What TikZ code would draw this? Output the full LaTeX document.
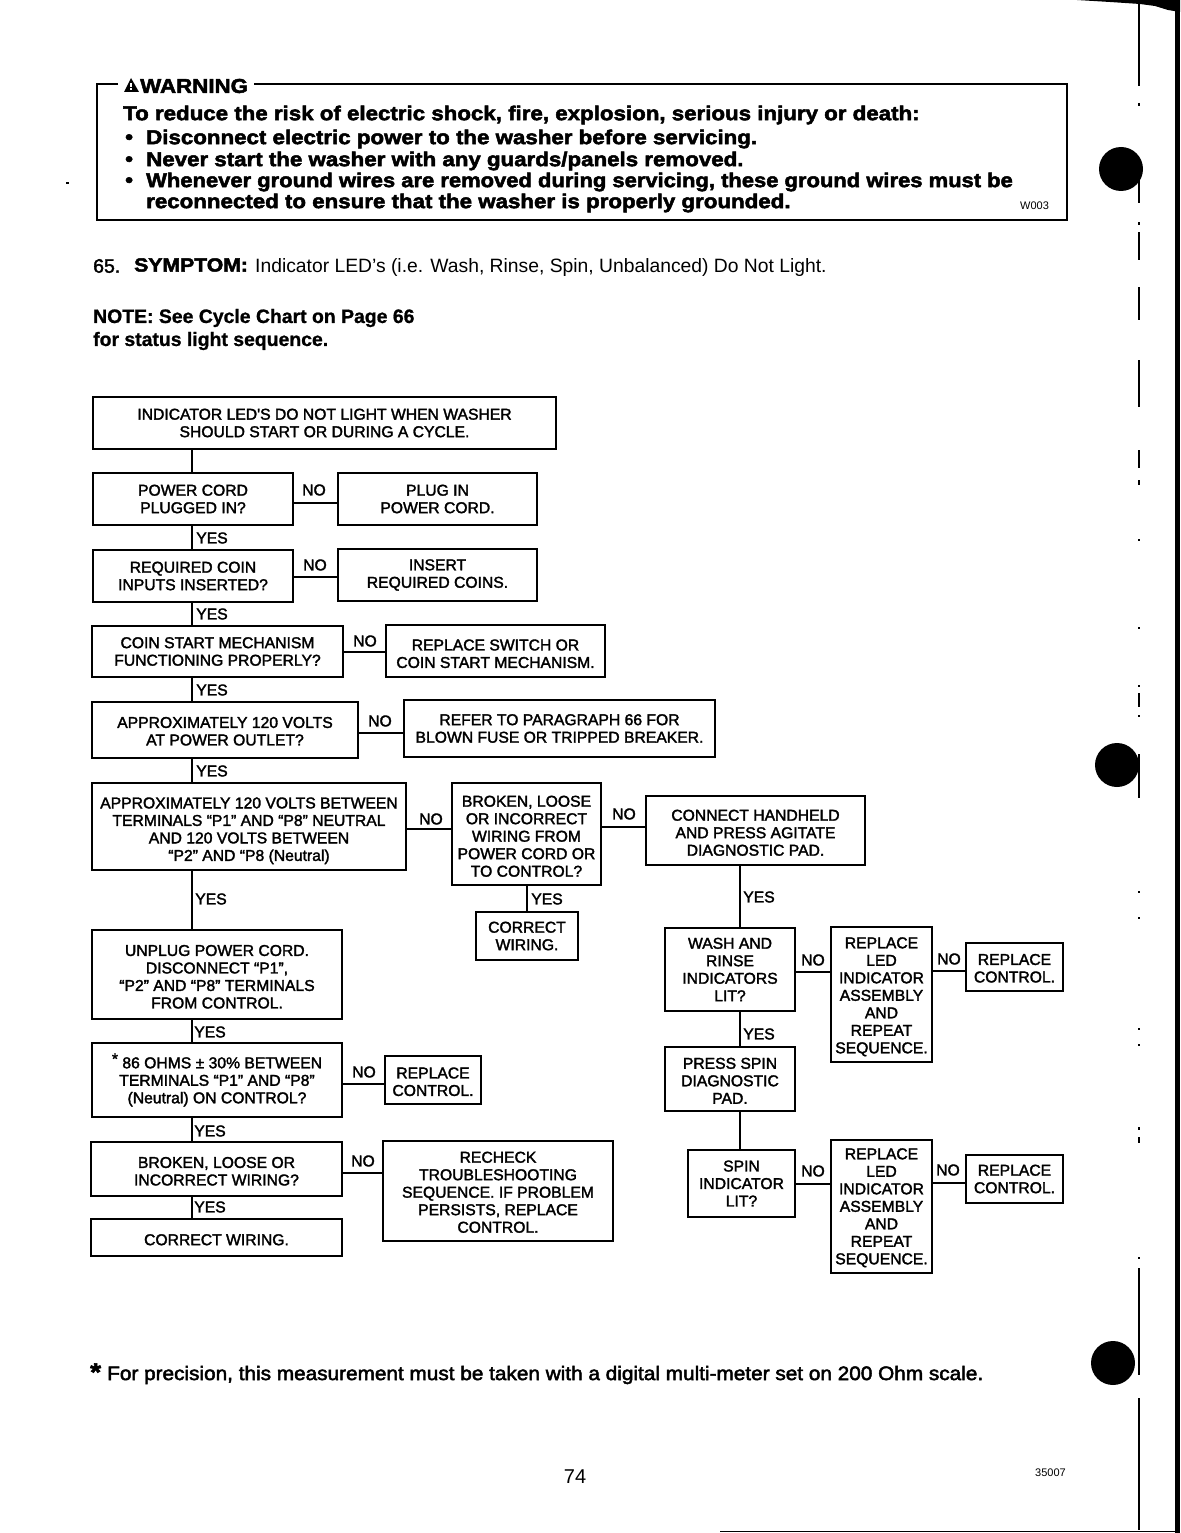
\documentclass[tikz,border=0pt]{standalone}
\usepackage{fontspec}
\setmainfont{Liberation Sans}
\newfontfamily\flowfont[FakeBold=2]{Liberation Sans}
\newfontfamily\warnfont[FakeBold=2.5,FakeStretch=1.115]{Liberation Sans Bold}
\newfontfamily\headfont[FakeBold=1]{Liberation Sans Bold}
\newfontfamily\footfont[FakeBold=2.5,FakeStretch=1.065]{Liberation Sans}
\newcommand{\warnsize}{\warnfont\fontsize{20}{22}\selectfont}
\newcommand{\dn}[1]{\rule{0pt}{\dimexpr 11.5pt+2\dimexpr #1\relax\relax}}
\tikzset{
  pagetext/.style={inner sep=0pt,anchor=west,text=black},
  warntext/.style={pagetext,font=\warnsize},
  flowtext/.style={font=\flowfont\fontsize{15.7}{17.5}\selectfont},
  rawbox/.style={draw=black,line width=2pt,align=center,inner sep=0pt,flowtext},
  tag/.style={inner sep=0pt,flowtext},
  link/.style={draw=black,line width=2pt},
  scan/.style={draw=black,line width=1.2pt},
}
% left, top, right, bottom, name, text
\newcommand{\flowbox}[6]{%
  \pgfmathsetmacro{\bw}{#3-#1}\pgfmathsetmacro{\bh}{#4-#2}%
  \pgfmathsetmacro{\bx}{(#1+#3)/2}\pgfmathsetmacro{\by}{(#2+#4)/2}%
  \node[rawbox,minimum width=\bw pt,minimum height=\bh pt] (#5) at (\bx,\by) {#6};}
\begin{document}
\begin{tikzpicture}[x=1pt,y=-1pt]
\useasboundingbox (0,0) rectangle (1180,1533);
\fill[white] (0,0) rectangle (1180,1533);

% warning frame
\coordinate (wtl) at (97,84);
\coordinate (wbr) at (1067,220);
\draw[line width=2pt] (118,84) -- (wtl) -- (97,220) -- (wbr) -- (1067,84) -- (254,84);
\fill[black] (131,78) -- (139,92) -- (124,92) -- cycle;
\fill[white] (130.3,83) rectangle (131.7,87.5);
\fill[white] (130.3,88.5) rectangle (131.7,90);
\node[warntext] (wtitle) at (140,86) {WARNING};
\node[warntext] (w1) at (123,115) {To reduce the risk of electric shock, fire, explosion, serious injury or death:};
\node[warntext] (b2) at (125,139) {•};
\node[warntext] (w2) at (146,139) {Disconnect electric power to the washer before servicing.};
\node[warntext] (b3) at (125,161) {•};
\node[warntext] (w3) at (146,161) {Never start the washer with any guards/panels removed.};
\node[warntext] (b4) at (125,182) {•};
\node[warntext,xscale=0.985,transform shape] (w4) at (146,182) {Whenever ground wires are removed during servicing, these ground wires must be};
\node[warntext] (w5) at (146,203) {reconnected to ensure that the washer is properly grounded.};
\node[pagetext,font=\fontsize{11}{12}\selectfont] (w003) at (1020,206) {W003};

\node[pagetext,font=\flowfont\fontsize{19.5}{22}\selectfont] (symn) at (93,266) {65.};
\node[pagetext,font=\warnfont\fontsize{19}{22}\selectfont] (symh) at (134,265) {SYMPTOM:};
\node[pagetext,font=\fontsize{19.3}{22}\selectfont] (sym) at (255,267.5) {Indicator LED's (i.e. Wash, Rinse, Spin, Unbalanced) Do Not Light.};
\node[pagetext,font=\headfont\fontsize{19.4}{22}\selectfont] (note1) at (93,318) {NOTE: See Cycle Chart on Page 66};
\node[pagetext,font=\headfont\fontsize{19.4}{22}\selectfont] (note2) at (93,341) {for status light sequence.};

% boxes
\flowbox{93}{397}{556}{449}{start}{INDICATOR LED'S DO NOT LIGHT WHEN WASHER\\SHOULD START OR DURING A CYCLE.}
\flowbox{93}{473}{293}{525}{cord}{POWER CORD\\PLUGGED IN?}
\flowbox{338}{473}{537}{525}{plug}{PLUG IN\\POWER CORD.}
\flowbox{93}{550}{293}{602}{coin}{REQUIRED COIN\\INPUTS INSERTED?}
\flowbox{338}{549}{537}{601}{insert}{INSERT\\REQUIRED COINS.}
\flowbox{92}{626}{343}{677}{mech}{COIN START MECHANISM\\FUNCTIONING PROPERLY?}
\flowbox{386}{625}{605}{677}{swap}{\dn{2.5pt}REPLACE SWITCH OR\\COIN START MECHANISM.}
\flowbox{92}{702}{358}{758}{outlet}{\dn{1pt}APPROXIMATELY 120 VOLTS\\AT POWER OUTLET?}
\flowbox{404}{700}{715}{757}{fuse}{REFER TO PARAGRAPH 66 FOR\\BLOWN FUSE OR TRIPPED BREAKER.}
\flowbox{92}{783}{406}{870}{volts}{\dn{4pt}APPROXIMATELY 120 VOLTS BETWEEN\\TERMINALS “P1” AND “P8” NEUTRAL\\AND 120 VOLTS BETWEEN\\“P2” AND “P8 (Neutral)}
\flowbox{452}{783}{601}{885}{broken}{\dn{2pt}BROKEN, LOOSE\\OR INCORRECT\\WIRING FROM\\POWER CORD OR\\TO CONTROL?}
\flowbox{646}{796}{865}{865}{hand}{\dn{2pt}CONNECT HANDHELD\\AND PRESS AGITATE\\DIAGNOSTIC PAD.}
\flowbox{476}{912}{578}{960}{fix}{CORRECT\\WIRING.}
\flowbox{92}{930}{342}{1019}{unplug}{\dn{2pt}UNPLUG POWER CORD.\\DISCONNECT “P1”,\\“P2” AND “P8” TERMINALS\\FROM CONTROL.}
\flowbox{92}{1043}{342}{1117}{ohms}{\raisebox{4pt}{*} 86 OHMS ± 30\% BETWEEN\\TERMINALS “P1” AND “P8”\\(Neutral) ON CONTROL?}
\flowbox{385}{1056}{481}{1104}{ctrla}{\dn{1.5pt}REPLACE\\CONTROL.}
\flowbox{91}{1142}{342}{1196}{loose}{\dn{2pt}BROKEN, LOOSE OR\\INCORRECT WIRING?}
\flowbox{383}{1141}{613}{1241}{recheck}{\dn{1pt}RECHECK\\TROUBLESHOOTING\\SEQUENCE. IF PROBLEM\\PERSISTS, REPLACE\\CONTROL.}
\flowbox{91}{1219}{342}{1256}{fixb}{\dn{2pt}CORRECT WIRING.}
\flowbox{665}{928}{795}{1011}{wash}{WASH AND\\RINSE\\INDICATORS\\LIT?}
\flowbox{831}{927}{932}{1062}{leda}{\dn{2pt}REPLACE\\LED\\INDICATOR\\ASSEMBLY\\AND\\REPEAT\\SEQUENCE.}
\flowbox{966}{943}{1063}{991}{ctrlb}{\dn{1pt}REPLACE\\CONTROL.}
\flowbox{665}{1047}{795}{1111}{press}{\dn{1.5pt}PRESS SPIN\\DIAGNOSTIC\\PAD.}
\flowbox{688}{1150}{795}{1217}{spin}{SPIN\\INDICATOR\\LIT?}
\flowbox{831}{1140}{932}{1273}{ledb}{\dn{1pt}REPLACE\\LED\\INDICATOR\\ASSEMBLY\\AND\\REPEAT\\SEQUENCE.}
\flowbox{966}{1155}{1063}{1203}{ctrlc}{REPLACE\\CONTROL.}

% vertical connectors
\coordinate (sp) at (191.5,0);
\draw[link] (start.south -| sp) -- (cord.north -| sp);
\draw[link] (cord.south -| sp) -- (coin.north -| sp);
\draw[link] (coin.south -| sp) -- (mech.north -| sp);
\draw[link] (mech.south -| sp) -- (outlet.north -| sp);
\draw[link] (outlet.south -| sp) -- (volts.north -| sp);
\draw[link] (volts.south -| sp) -- (unplug.north -| sp);
\draw[link] (unplug.south -| sp) -- (ohms.north -| sp);
\draw[link] (ohms.south -| sp) -- (loose.north -| sp);
\draw[link] (loose.south -| sp) -- (fixb.north -| sp);
\coordinate (sb) at (527,0);
\draw[link] (broken.south -| sb) -- (fix.north -| sb);
\coordinate (sc) at (739.5,0);
\draw[link] (hand.south -| sc) -- (wash.north -| sc);
\draw[link] (wash.south -| sc) -- (press.north -| sc);
\draw[link] (press.south -| sc) -- (spin.north -| sc);

% horizontal connectors
\draw[link] (cord.east |- 0,503) -- (plug.west |- 0,503);
\draw[link] (coin.east |- 0,577) -- (insert.west |- 0,577);
\draw[link] (mech.east |- 0,652) -- (swap.west |- 0,652);
\draw[link] (outlet.east |- 0,733) -- (fuse.west |- 0,733);
\draw[link] (volts.east |- 0,829) -- (broken.west |- 0,829);
\draw[link] (broken.east |- 0,827) -- (hand.west |- 0,827);
\draw[link] (ohms.east |- 0,1084) -- (ctrla.west |- 0,1084);
\draw[link] (loose.east |- 0,1173) -- (recheck.west |- 0,1173);
\draw[link] (wash.east |- 0,972) -- (leda.west |- 0,972);
\draw[link] (leda.east |- 0,971) -- (ctrlb.west |- 0,971);
\draw[link] (spin.east |- 0,1184) -- (ledb.west |- 0,1184);
\draw[link] (ledb.east |- 0,1183) -- (ctrlc.west |- 0,1183);

% branch labels
\node[tag] (n1) at (314,490) {NO};
\node[tag] (n2) at (315,565) {NO};
\node[tag] (n3) at (365,641) {NO};
\node[tag] (n4) at (380,721) {NO};
\node[tag] (n5) at (431,819) {NO};
\node[tag] (n6) at (624,814) {NO};
\node[tag] (n7) at (813,960) {NO};
\node[tag] (n8) at (949,959) {NO};
\node[tag] (n9) at (813,1171) {NO};
\node[tag] (n10) at (948,1170) {NO};
\node[tag] (n11) at (364,1072) {NO};
\node[tag] (n12) at (363,1161) {NO};
\node[tag] (y1) at (212,538) {YES};
\node[tag] (y2) at (212,614) {YES};
\node[tag] (y3) at (212,690) {YES};
\node[tag] (y4) at (212,771) {YES};
\node[tag] (y5) at (211,899) {YES};
\node[tag] (y6) at (547,899) {YES};
\node[tag] (y7) at (759,897) {YES};
\node[tag] (y8) at (759,1034) {YES};
\node[tag] (y9) at (210,1032) {YES};
\node[tag] (y10) at (210,1131) {YES};
\node[tag] (y11) at (210,1207) {YES};

% foot
\node[pagetext,font=\warnfont\fontsize{25}{26}\selectfont] (star) at (90,1372) {*};
\node[pagetext,font=\footfont\fontsize{19.5}{22}\selectfont] (foot) at (107,1375) {For precision, this measurement must be taken with a digital multi-meter set on 200 Ohm scale.};
\node[inner sep=0pt,font=\fontsize{20}{22}\selectfont] (pg) at (575,1477) {74};
\node[pagetext,font=\fontsize{11}{12}\selectfont] (code) at (1035,1473) {35007};

% scan artefacts
\fill[black] (1121,169) circle (22);
\fill[black] (1117,765) circle (22);
\fill[black] (1113,1363) circle (22);
\fill[black] (1175,0) rectangle (1180,1533);
\fill[black] (1077,0) -- (1180,0) -- (1180,12) -- (1168,10) -- (1155,6) -- (1140,4) -- (1110,2) -- cycle;
\draw[line width=1pt] (720,1531) -- (1180,1531);
\foreach \ya/\yb in {0/86,103/106,170/203,222/225,232/260,287/320,360/407,450/468,480/485,539/541,627/629,685/687,693/707,715/717,754/798,891/893,917/919,1028/1030,1044/1046,1127/1130,1137/1143,1257/1259,1268/1375,1398/1530}
  \draw[scan] (1139,\ya) -- (1139,\yb);
\fill[black] (66,182) rectangle (69,184);
\end{tikzpicture}
\end{document}
